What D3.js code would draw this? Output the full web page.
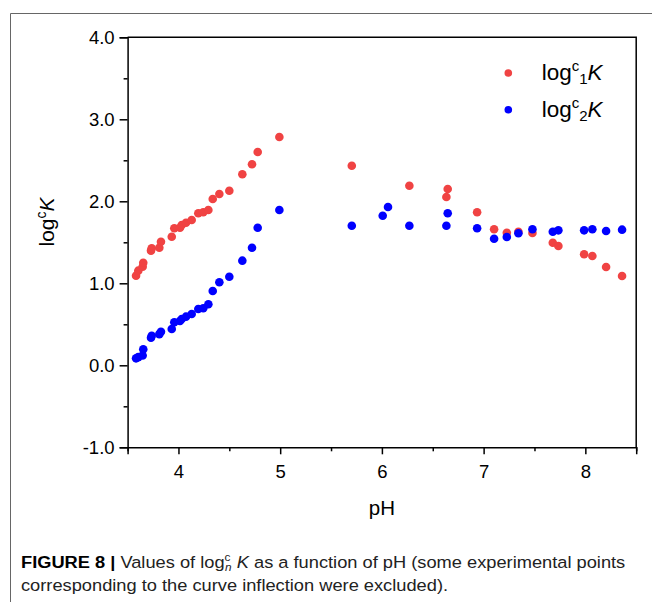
<!DOCTYPE html>
<html>
<head>
<meta charset="utf-8">
<script src="https://cdn.jsdelivr.net/npm/d3@7"></script>
<style>
  body { margin: 0; background: #fff; }
  svg { display: block; }
</style>
</head>
<body>
<div id="canvas"></div>
<script>
"use strict"

/* drawing size */
let svgWidth = 652;
let svgHeight = 602;

/* plot box */
let leftMargin = 127.6;
let rightEdge = 636.2;
let topMargin = 37.3;
let bottomEdge = 447.3;

/* data: pH and log K for each series */
let ph1 = [3.583, 3.605, 3.648, 3.654, 3.730, 3.737, 3.812, 3.828, 3.934, 3.959,
    4.015, 4.032, 4.074, 4.130, 4.195, 4.244, 4.294, 4.337, 4.402, 4.500,
    4.628, 4.723, 4.779, 4.992,
    5.704, 6.270, 6.647, 6.634, 6.936, 7.103, 7.228, 7.342, 7.480, 7.680,
    7.735, 7.988, 8.069, 8.204, 8.361];
let logK1 = [1.093, 1.154, 1.202, 1.251, 1.398, 1.427, 1.434, 1.507, 1.568, 1.671,
    1.678, 1.711, 1.739, 1.772, 1.854, 1.866, 1.894, 2.028, 2.089, 2.129,
    2.329, 2.451, 2.601, 2.784,
    2.434, 2.190, 2.150, 2.052, 1.866, 1.659, 1.617, 1.629, 1.613, 1.495,
    1.455, 1.354, 1.333, 1.199, 1.089];

let ph2 = [3.583, 3.605, 3.648, 3.654, 3.730, 3.737, 3.812, 3.828, 3.934, 3.959,
    4.015, 4.032, 4.074, 4.130, 4.195, 4.244, 4.294, 4.337, 4.402, 4.500,
    4.628, 4.723, 4.779, 4.992,
    5.704, 6.008, 6.060, 6.270, 6.647, 6.634, 6.936, 7.103, 7.228, 7.342,
    7.480, 7.680, 7.735, 7.988, 8.069, 8.204, 8.361];
let logK2 = [0.085, 0.100, 0.120, 0.195, 0.337, 0.360, 0.380, 0.410, 0.443, 0.524,
    0.540, 0.565, 0.593, 0.626, 0.687, 0.695, 0.744, 0.906, 1.012, 1.080,
    1.276, 1.434, 1.678, 1.894,
    1.702, 1.824, 1.930, 1.702, 1.854, 1.702, 1.671, 1.544, 1.565, 1.610,
    1.659, 1.629, 1.646, 1.646, 1.659, 1.638, 1.654];

let xTicks = [4, 5, 6, 7, 8];
let yTicks = [-1, 0, 1, 2, 3, 4];

let red = "#f04343";
let blue = "#0000ff";
let fontMain = "Arial, 'Liberation Sans', Helvetica, sans-serif";
let fontCaption = "'Liberation Sans Narrow', 'Arial Narrow', Arial, sans-serif";

let svg = d3.select("#canvas")
    .append("svg")
    .attr("width", svgWidth)
    .attr("height", svgHeight)
    .style("font-family", fontMain);

/* figure frame (only top and left edges show) */
svg.append("path")
    .attr("d", `M10.5,${svgHeight} V13.5 H${svgWidth}`)
    .attr("fill", "none")
    .attr("stroke", "#666")
    .attr("stroke-width", 1);

/* scales */
let xScale = d3.scaleLinear()
    .domain([3.5, 8.5])
    .range([leftMargin, rightEdge]);

let yScale = d3.scaleLinear()
    .domain([-1, 4])
    .range([bottomEdge, topMargin]);

/* minor ticks at the halves */
let xMinor = d3.range(3.5, 8.51, 0.5).filter(d => !xTicks.includes(d));
let yMinor = d3.range(-0.5, 4, 1);

/* plain hyphen for negatives, like the original */
let yFormat = d => d.toFixed(1);

svg.append("g")
    .attr("transform", `translate(0,${bottomEdge})`)
    .call(d3.axisBottom(xScale).tickValues(xTicks).tickSize(7).tickPadding(11).tickFormat(d => String(d)));

svg.append("g")
    .attr("transform", `translate(0,${bottomEdge})`)
    .call(d3.axisBottom(xScale).tickValues(xMinor).tickSize(4).tickFormat(""))
    .select(".domain").remove();

svg.append("g")
    .attr("transform", `translate(${leftMargin},0)`)
    .call(d3.axisLeft(yScale).tickValues(yTicks).tickSize(8).tickPadding(5).tickFormat(yFormat));

svg.append("g")
    .attr("transform", `translate(${leftMargin},0)`)
    .call(d3.axisLeft(yScale).tickValues(yMinor).tickSize(4).tickFormat(""))
    .select(".domain").remove();

svg.selectAll("g").attr("font-family", null);
svg.selectAll(".domain").attr("stroke-width", 1.5);
svg.selectAll(".tick line").attr("stroke-width", 1.5);
svg.selectAll(".tick text")
    .style("font-family", fontMain)
    .attr("font-size", 18.5)
    .attr("fill", "#000");

/* top and right edges of the plot box */
svg.append("path")
    .attr("d", `M${leftMargin},${topMargin} H${rightEdge} V${bottomEdge}`)
    .attr("fill", "none")
    .attr("stroke", "#000")
    .attr("stroke-width", 1.5);

/* points */
let series1 = ph1.map((p, i) => ({ ph: p, k: logK1[i] }));
let series2 = ph2.map((p, i) => ({ ph: p, k: logK2[i] }));

svg.append("g").selectAll("circle")
    .data(series1)
    .join("circle")
    .attr("cx", d => xScale(d.ph))
    .attr("cy", d => yScale(d.k))
    .attr("r", 4.3)
    .attr("fill", red);

svg.append("g").selectAll("circle")
    .data(series2)
    .join("circle")
    .attr("cx", d => xScale(d.ph))
    .attr("cy", d => yScale(d.k))
    .attr("r", 4.3)
    .attr("fill", blue);

/* axis titles */
svg.append("text")
    .attr("x", xScale(6))
    .attr("y", 515)
    .attr("text-anchor", "middle")
    .style("font-family", fontMain)
    .attr("font-size", 20.5)
    .text("pH");

let yTitle = svg.append("text")
    .attr("transform", "translate(54,222) rotate(-90)")
    .attr("text-anchor", "middle")
    .style("font-family", fontMain)
    .attr("font-size", 21);
yTitle.append("tspan").text("log");
yTitle.append("tspan").attr("font-size", 14).attr("dy", -8).text("c");
yTitle.append("tspan").attr("font-style", "italic").attr("dy", 8).text("K");

/* legend */
let legendNames = [["c", "1"], ["c", "2"]];
let legendColors = [red, blue];
for (let i = 0; i < 2; i++) {
    let ly = 80 + i * 36.7;
    svg.append("circle")
        .attr("cx", 508.3)
        .attr("cy", ly - 7)
        .attr("r", 3.8)
        .attr("fill", legendColors[i]);
    let t = svg.append("text")
        .attr("x", 541.7)
        .attr("y", ly)
        .style("font-family", fontMain)
        .attr("font-size", 22.5);
    t.append("tspan").text("log");
    t.append("tspan").attr("font-size", 15).attr("dy", -9).text(legendNames[i][0]);
    t.append("tspan").attr("font-size", 15).attr("dy", 13).text(legendNames[i][1]);
    t.append("tspan").attr("font-style", "italic").attr("dy", -4).text("K");
}

/* caption */
let cap1 = svg.append("text")
    .attr("x", 21)
    .attr("y", 568)
    .style("font-family", fontCaption)
    .attr("font-size", 17)
    .attr("fill", "#222");
cap1.append("tspan").attr("font-weight", "bold").attr("fill", "#000").text("FIGURE 8 | ");
cap1.append("tspan").text("Values of log");
cap1.append("tspan").attr("font-size", 11).attr("dy", -7).text("c");
cap1.append("tspan").attr("font-size", 11).attr("font-style", "italic").attr("dx", -5).attr("dy", 10).text("n");
cap1.append("tspan").attr("font-style", "italic").attr("dy", -3).text(" K");
cap1.append("tspan").text(" as a function of pH (some experimental points");

let cap2 = svg.append("text")
    .attr("x", 21)
    .attr("y", 591)
    .style("font-family", fontCaption)
    .attr("font-size", 17)
    .attr("fill", "#222")
    .text("corresponding to the curve inflection were excluded).");

/* fit caption width to the figure */
let w1 = cap1.node().getBBox().width;
let scaleCap = 605 / w1;
cap1.attr("transform", `translate(21,0) scale(${scaleCap},1) translate(-21,0)`);
cap2.attr("transform", `translate(21,0) scale(${scaleCap},1) translate(-21,0)`);
</script>
</body>
</html>
